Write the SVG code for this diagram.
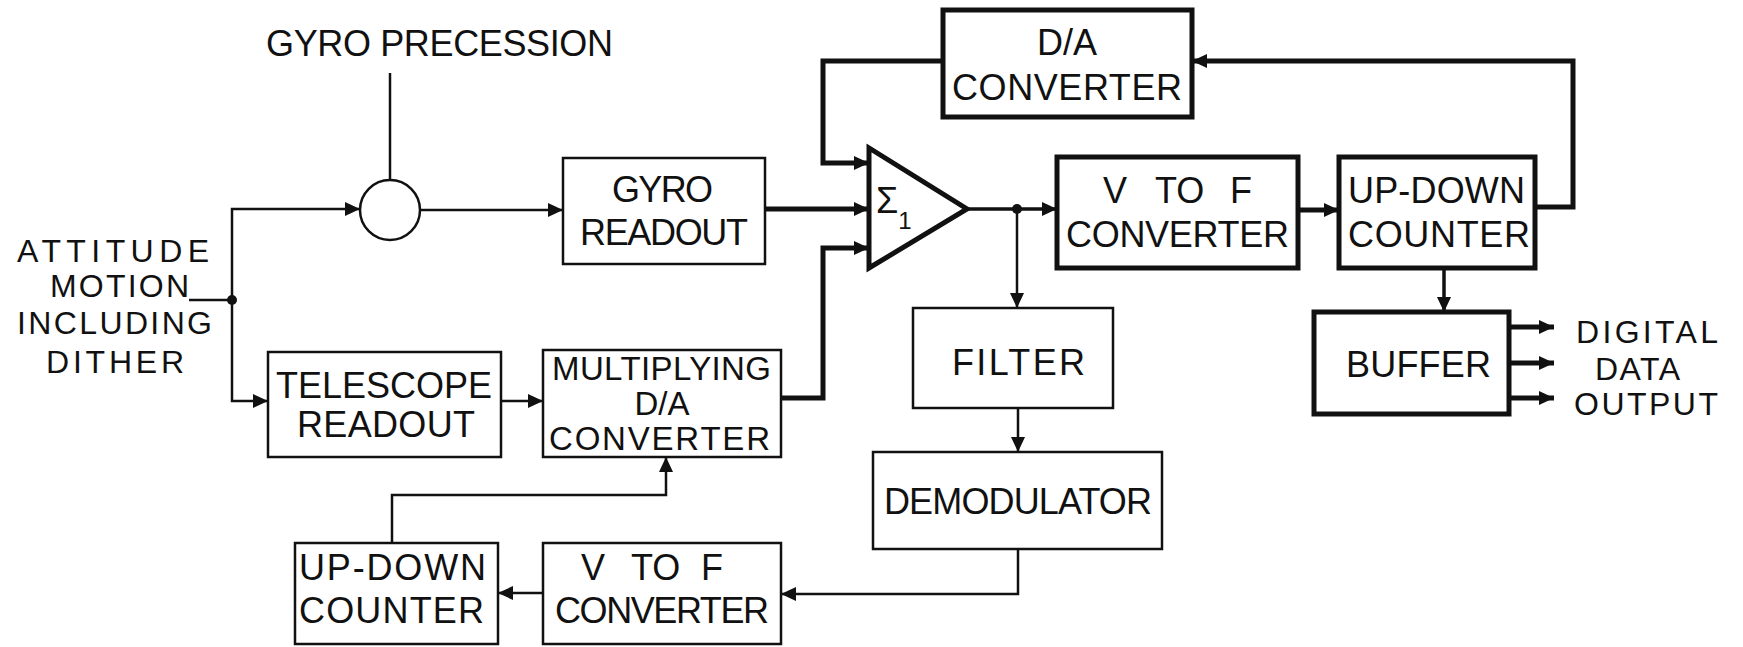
<svg xmlns="http://www.w3.org/2000/svg" width="1743" height="647" viewBox="0 0 1743 647">
<style>
text{font-family:"Liberation Sans",Arial,sans-serif;font-size:36px;fill:#111}
.sm{font-size:33px}
.lb{font-size:32px}
.box{fill:#fff;stroke:#111;stroke-width:2.5}
.tbox{fill:#fff;stroke:#111;stroke-width:5}
.ln{fill:none;stroke:#111;stroke-width:2.5}
.md{fill:none;stroke:#111;stroke-width:3.5}
.tk{fill:none;stroke:#111;stroke-width:5}
</style>
<defs>
<marker id="ah" markerUnits="userSpaceOnUse" markerWidth="16" markerHeight="14" refX="15" refY="7" orient="auto">
<path d="M0,0 L15,7 L0,14 z" fill="#111"/>
</marker>
</defs>
<rect width="1743" height="647" fill="#fff"/>

<g id="connectors">
<path class="ln" d="M189,300 H232"/>
<circle cx="232" cy="300" r="5" fill="#111"/>
<path class="ln" d="M232,300 V209 H360" marker-end="url(#ah)"/>
<path class="ln" d="M232,300 V401 H268" marker-end="url(#ah)"/>
<path class="ln" d="M390,73 V180"/>
<path class="ln" d="M420,210 H563" marker-end="url(#ah)"/>
<path class="tk" d="M765,209 H869" marker-end="url(#ah)"/>
<path class="tk" d="M943,61 H823 V163 H869" marker-end="url(#ah)"/>
<path class="tk" d="M781,398 H823 V248 H869" marker-end="url(#ah)"/>
<path class="md" d="M967,209 H1057" marker-end="url(#ah)"/>
<circle cx="1017" cy="209" r="5" fill="#111"/>
<path class="ln" d="M1017,209 V308" marker-end="url(#ah)"/>
<path class="tk" d="M1298,210 H1339" marker-end="url(#ah)"/>
<path class="tk" d="M1535,207 H1573 V61 H1192" marker-end="url(#ah)"/>
<path class="md" d="M1444,268 V312" marker-end="url(#ah)"/>
<path class="tk" d="M1509,327 H1554" marker-end="url(#ah)"/>
<path class="tk" d="M1509,363 H1554" marker-end="url(#ah)"/>
<path class="tk" d="M1509,398 H1554" marker-end="url(#ah)"/>
<path class="ln" d="M501,401 H543" marker-end="url(#ah)"/>
<path class="ln" d="M1018,408 V452" marker-end="url(#ah)"/>
<path class="ln" d="M1018,549 V594 H781" marker-end="url(#ah)"/>
<path class="ln" d="M543,593 H498" marker-end="url(#ah)"/>
<path class="ln" d="M392,543 V495 H666 V457" marker-end="url(#ah)"/>
</g>

<g id="label-gyro-precession">
<text x="266" y="56" textLength="347" lengthAdjust="spacing">GYRO PRECESSION</text>
</g>

<g id="label-attitude">
<text class="lb" x="17" y="262" textLength="192" lengthAdjust="spacing">ATTITUDE</text>
<text class="lb" x="50" y="297" textLength="139" lengthAdjust="spacing">MOTION</text>
<text class="lb" x="17" y="334" textLength="195" lengthAdjust="spacing">INCLUDING</text>
<text class="lb" x="46" y="373" textLength="138" lengthAdjust="spacing">DITHER</text>
</g>

<g id="sum-circle">
<circle cx="390" cy="210" r="30" class="ln" fill="#fff"/>
</g>

<g id="gyro-readout">
<rect class="box" x="563" y="158" width="202" height="106"/>
<text x="612" y="202" textLength="101" lengthAdjust="spacing">GYRO</text>
<text x="580" y="245" textLength="168" lengthAdjust="spacing">READOUT</text>
</g>

<g id="da-converter-top">
<rect class="tbox" x="943" y="10" width="249" height="107"/>
<text x="1067" y="55" text-anchor="middle">D/A</text>
<text x="952" y="100" textLength="230" lengthAdjust="spacing">CONVERTER</text>
</g>

<g id="summing-amp">
<polygon class="tk" fill="#fff" points="869,148 869,268 967,209"/>
<text x="876" y="213" font-size="34">Σ<tspan font-size="24" dy="16">1</tspan></text>
</g>

<g id="vtof-top">
<rect class="tbox" x="1057" y="157" width="241" height="111"/>
<text y="203"><tspan x="1103">V </tspan><tspan x="1155">TO </tspan><tspan x="1230">F</tspan></text>
<text x="1066" y="247" textLength="223" lengthAdjust="spacing">CONVERTER</text>
</g>

<g id="updown-top">
<rect class="tbox" x="1339" y="157" width="196" height="111"/>
<text x="1348" y="203" textLength="177" lengthAdjust="spacing">UP-DOWN</text>
<text x="1348" y="247" textLength="182" lengthAdjust="spacing">COUNTER</text>
</g>

<g id="buffer">
<rect class="tbox" x="1314" y="312" width="195" height="102"/>
<text x="1346" y="377" textLength="145" lengthAdjust="spacing">BUFFER</text>
</g>

<g id="label-digital-output">
<text class="lb" x="1576" y="343" textLength="142" lengthAdjust="spacing">DIGITAL</text>
<text class="lb" x="1595" y="380" textLength="85" lengthAdjust="spacing">DATA</text>
<text class="lb" x="1574" y="415" textLength="144" lengthAdjust="spacing">OUTPUT</text>
</g>

<g id="telescope-readout">
<rect class="box" x="268" y="352" width="233" height="105"/>
<text x="276" y="398" textLength="216" lengthAdjust="spacing">TELESCOPE</text>
<text x="297" y="437" textLength="178" lengthAdjust="spacing">READOUT</text>
</g>

<g id="multiplying-da">
<rect class="box" x="543" y="350" width="238" height="107"/>
<text class="sm" x="552" y="380" textLength="219" lengthAdjust="spacing">MULTIPLYING</text>
<text class="sm" x="662" y="415" text-anchor="middle">D/A</text>
<text class="sm" x="549" y="450" textLength="221" lengthAdjust="spacing">CONVERTER</text>
</g>

<g id="filter">
<rect class="box" x="913" y="308" width="200" height="100"/>
<text x="952" y="375" textLength="133" lengthAdjust="spacing">FILTER</text>
</g>

<g id="demodulator">
<rect class="box" x="873" y="452" width="289" height="97"/>
<text x="884" y="514" textLength="268" lengthAdjust="spacing">DEMODULATOR</text>
</g>

<g id="vtof-bottom">
<rect class="box" x="543" y="543" width="238" height="101"/>
<text y="580"><tspan x="581">V </tspan><tspan x="631">TO </tspan><tspan x="701">F</tspan></text>
<text x="555" y="623" textLength="214" lengthAdjust="spacing">CONVERTER</text>
</g>

<g id="updown-bottom">
<rect class="box" x="295" y="543" width="203" height="101"/>
<text x="299" y="580" textLength="187" lengthAdjust="spacing">UP-DOWN</text>
<text x="299" y="623" textLength="185" lengthAdjust="spacing">COUNTER</text>
</g>
</svg>
